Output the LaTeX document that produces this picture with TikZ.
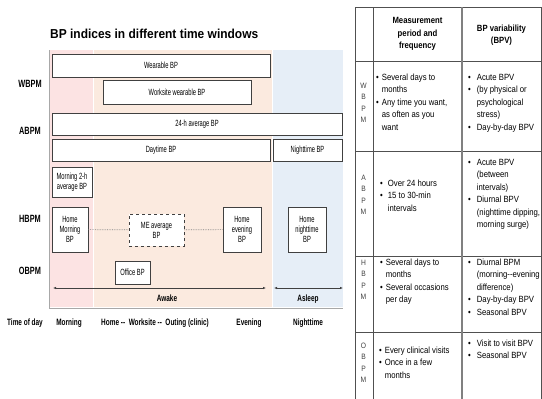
\documentclass[tikz,border=0pt]{standalone}
\usepackage{fontspec}
\setmainfont{Liberation Sans}
\newfontfamily\narrowfont[FakeStretch=0.7]{Liberation Sans}
\newfontfamily\boxfont[FakeStretch=0.64]{Liberation Sans}
\newfontfamily\tablefont[FakeStretch=0.86]{Liberation Sans}
\newfontfamily\titlefont[FakeStretch=0.92]{Liberation Sans}
\usetikzlibrary{arrows.meta}

\definecolor{mornpink}{HTML}{FCE3E3}
\definecolor{awakepeach}{HTML}{FBEADF}
\definecolor{sleepblue}{HTML}{E6EEF7}
\definecolor{boxline}{HTML}{404040}
\definecolor{gridline}{HTML}{505050}
\definecolor{framegray}{HTML}{A8A8A8}

\tikzset{
  bpbox/.style={draw=boxline,line width=0.8pt,fill=white,inner sep=1pt,align=center,
    font=\boxfont\fontsize{9}{10}\selectfont},
  rowlab/.style={anchor=base,inner sep=0pt,font=\narrowfont\bfseries\fontsize{10.5}{12}\selectfont},
  timelab/.style={anchor=base,inner sep=0pt,font=\narrowfont\bfseries\fontsize{9.2}{11}\selectfont},
  hdr/.style={align=center,inner sep=0pt,font=\tablefont\bfseries\fontsize{9}{12.5}\selectfont},
  cell/.style={anchor=base west,inner sep=0pt,font=\tablefont\fontsize{9}{12.5}\selectfont},
  letters/.style={anchor=base,inner sep=0pt,text=black!75,font=\tablefont\fontsize{7.8}{11.5}\selectfont},
}

\begin{document}
\begin{tikzpicture}[x=1pt,y=-1pt,>={Latex[length=3pt,width=2.4pt]}]
  \useasboundingbox (0,0) rectangle (542,399);

  % time windows
  \fill[mornpink] (49,50) rectangle (92.5,307);
  \fill[awakepeach] (94,50) rectangle (271.5,307);
  \fill[sleepblue] (273,50) rectangle (343,307);
  \draw[framegray,line width=1pt] (49,50) -- (49,308) -- (343,308);

  \node[anchor=base west,inner sep=0pt,font=\titlefont\bfseries\fontsize{13}{15}\selectfont] (title) at (50,38)
    {BP indices in different time windows};

  % WBPM
  \node[bpbox,minimum width=218,minimum height=23] (wbp) at (161,65.5) {Wearable BP};
  \node[bpbox,minimum width=148,minimum height=24] (wwbp) at (177,92) {Worksite wearable BP};

  % ABPM
  \node[bpbox,minimum width=290,minimum height=22] (abp) at (197,124) {24-h average BP};
  \node[bpbox,minimum width=218,minimum height=22] (dbp) at (161,150) {Daytime BP};
  \node[bpbox,minimum width=69,minimum height=22] (nbp) at (307.5,150) {Nighttime BP};

  % HBPM
  \node[bpbox,minimum width=40,minimum height=30] (m2h) at (72,182) {Morning 2-h\\average BP};
  \node[bpbox,minimum width=36,minimum height=45] (hmbp) at (70,229.5) {Home\\Morning\\BP};
  \node[bpbox,dashed,minimum width=55,minimum height=32] (meavg) at (156.5,230) {ME average\\BP};
  \node[bpbox,minimum width=38,minimum height=45] (hebp) at (242,229.5) {Home\\evening\\BP};
  \node[bpbox,minimum width=38,minimum height=45] (hnbp) at (307,229.5) {Home\\nighttime\\BP};
  \draw[gray,densely dotted,line width=0.7pt] (hmbp) -- (meavg);
  \draw[gray,densely dotted,line width=0.7pt] (meavg) -- (hebp);

  % OBPM
  \node[bpbox,minimum width=35,minimum height=23] (obp) at (132.5,272.5) {Office BP};

  % awake / asleep
  \coordinate (awakeL) at (53,288);
  \coordinate (awakeR) at (266,288);
  \coordinate (sleepL) at (274,288);
  \coordinate (sleepR) at (343,288);
  \draw[<->,boxline,line width=0.6pt] (awakeL) -- (awakeR);
  \draw[<->,boxline,line width=0.6pt] (sleepL) -- (sleepR);
  \node[timelab] (awake) at (167,301) {Awake};
  \node[timelab] (asleep) at (308,301) {Asleep};

  % row labels
  \node[rowlab] (lwbpm) at (30,87) {WBPM};
  \node[rowlab] (labpm) at (30,134) {ABPM};
  \node[rowlab] (lhbpm) at (30,222) {HBPM};
  \node[rowlab] (lobpm) at (30,274) {OBPM};

  % time of day
  \node[timelab] (tod) at (25,325.5) {Time of day};
  \node[timelab] (tmorn) at (69,325.5) {Morning};
  \node[timelab] (tday) at (155,325.5) {Home -- \ Worksite -- \ Outing (clinic)};
  \node[timelab] (teve) at (249,325.5) {Evening};
  \node[timelab] (tnight) at (308,325.5) {Nighttime};

  % table
  \draw[gridline,line width=0.8pt] (355,7) -- (541,7);
  \foreach \y in {61,151,256,332}
    \draw[gridline,line width=0.8pt] (355,\y) -- (541,\y);
  \foreach \x in {355,373,541}
    \draw[gridline,line width=0.8pt] (\x,7) -- (\x,399);
  \draw[gray,line width=1.3pt] (462,7) -- (462,399);

  \node[hdr] (hmeas) at (417.5,34) {Measurement\\period and\\frequency};
  \node[hdr] (hbpv) at (501.5,35) {BP variability\\(BPV)};

  \node[letters] (rw) at (363.5,88) {\begin{tabular}[t]{@{}c@{}}W\\B\\P\\M\end{tabular}};
  \node[cell] (wmeas) at (376,80) {\begin{tabular}[t]{@{}l@{\hspace{3pt}}l@{}}
    • & Several days to\\ & months\\ • & Any time you want,\\ & as often as you\\ & want\end{tabular}};
  \node[cell] (wbpv) at (468,80) {\begin{tabular}[t]{@{}l@{\hspace{6pt}}l@{}}
    • & Acute BPV\\ • & (by physical or\\ & psychological\\ & stress)\\ • & Day-by-day BPV\end{tabular}};

  \node[letters] (ra) at (363.5,180) {\begin{tabular}[t]{@{}c@{}}A\\B\\P\\M\end{tabular}};
  \node[cell] (ameas) at (380,186) {\begin{tabular}[t]{@{}l@{\hspace{5pt}}l@{}}
    • & Over 24 hours\\ • & 15 to 30-min\\ & intervals\end{tabular}};
  \node[cell] (abpv) at (468,165) {\begin{tabular}[t]{@{}l@{\hspace{6pt}}l@{}}
    • & Acute BPV\\ & (between\\ & intervals)\\ • & Diurnal BPV\\ & (nighttime dipping,\\ & morning surge)\end{tabular}};

  \node[letters] (rh) at (363.5,265) {\begin{tabular}[t]{@{}c@{}}H\\B\\P\\M\end{tabular}};
  \node[cell] (hmeas) at (380,265) {\begin{tabular}[t]{@{}l@{\hspace{3pt}}l@{}}
    • & Several days to\\ & months\\ • & Several occasions\\ & per day\end{tabular}};
  \node[cell] (hbpv) at (468,265) {\begin{tabular}[t]{@{}l@{\hspace{6pt}}l@{}}
    • & Diurnal BPM\\ & (morning--evening\\ & difference)\\ • & Day-by-day BPV\\ • & Seasonal BPV\end{tabular}};

  \node[letters] (ro) at (363.5,348) {\begin{tabular}[t]{@{}c@{}}O\\B\\P\\M\end{tabular}};
  \node[cell] (omeas) at (379,353) {\begin{tabular}[t]{@{}l@{\hspace{3pt}}l@{}}
    • & Every clinical visits\\ • & Once in a few\\ & months\end{tabular}};
  \node[cell] (obpv) at (468,346) {\begin{tabular}[t]{@{}l@{\hspace{6pt}}l@{}}
    • & Visit to visit BPV\\ • & Seasonal BPV\end{tabular}};
\end{tikzpicture}
\end{document}
